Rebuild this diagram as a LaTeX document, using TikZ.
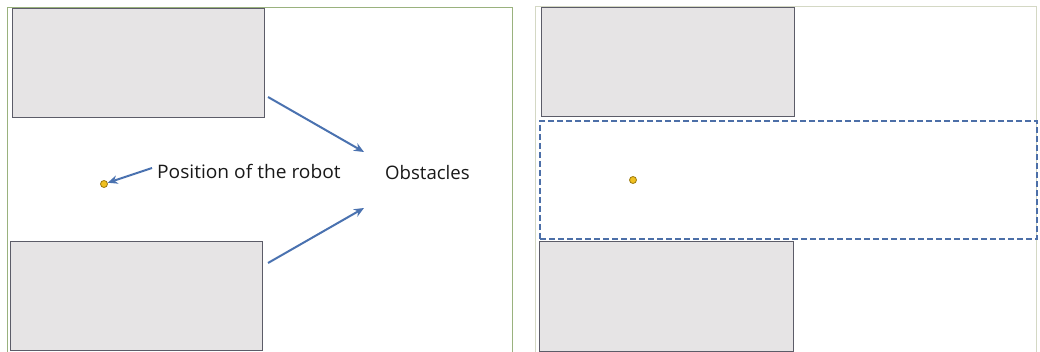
\documentclass[tikz,border=0pt]{standalone}
\usepackage{fontspec}
\setmainfont{Open Sans}
\usetikzlibrary{arrows.meta}
\definecolor{obsfill}{HTML}{E6E4E5}
\definecolor{obsdraw}{HTML}{5C5C68}
\definecolor{arrblue}{HTML}{4A72B0}
\definecolor{dashblue}{HTML}{4C6FA8}
\definecolor{panelL}{HTML}{9AB27E}
\definecolor{panelR}{HTML}{D4D8C4}
\definecolor{robotfill}{HTML}{F0C020}
\definecolor{robotdraw}{HTML}{9C7A10}
\tikzset{
  obstacle/.style={draw=obsdraw, fill=obsfill, line width=1pt, inner sep=0pt},
  robot/.style={circle, draw=robotdraw, fill=robotfill, line width=0.8pt, minimum size=7pt, inner sep=0pt},
  label/.style={font=\fontsize{18.6}{21}\selectfont, text=black!90, inner sep=0pt},
  pointer/.style={draw=arrblue, line width=2pt, -{Stealth[length=10pt,width=8.5pt]}},
  region/.style={draw=dashblue, line width=2pt, dash pattern=on 6pt off 3pt, inner sep=0pt},
}
\begin{document}
\begin{tikzpicture}[x=1pt, y=-1pt]
  \useasboundingbox (0,0) rectangle (1040,352);
  \fill[white] (0,0) rectangle (1040,352);

  % panel frames
  \draw[panelL, line width=1pt] (7.5,352) -- (7.5,7.5) -- (512,7.5) -- (512,352);
  \draw[panelR, line width=1pt] (535.5,352) -- (535.5,6.5) -- (1036,6.5) -- (1036,352);

  % left panel: obstacles
  \node[obstacle, minimum width=252pt, minimum height=109pt] (lt) at (138,63.5) {};
  \node[obstacle, minimum width=252pt, minimum height=108pt] (lb) at (136,296) {};

  % left panel: robot and labels
  \node[robot] (r1) at (104,184) {};
  \node[label, anchor=west, xscale=1.03] (pos) at (157,171) {Position of the robot};
  \node[label, anchor=west] (obs) at (385,172.5) {Obstacles};

  \coordinate (ta) at (268,97);
  \coordinate (tb) at (364,152);
  \coordinate (ba) at (268,263);
  \coordinate (bb) at (364,208);
  \coordinate (pa) at (152,168);

  \draw[pointer] (pa) -- (r1);
  \draw[pointer] (ta) -- (tb);
  \draw[pointer] (ba) -- (bb);

  % right panel: obstacles, free corridor and robot
  \node[obstacle, minimum width=253pt, minimum height=109pt] (rt) at (667.5,62.5) {};
  \node[obstacle, minimum width=254pt, minimum height=109pt] (rb) at (666,296.5) {};
  \node[region, minimum width=497pt, minimum height=118pt] (free) at (788.5,180) {};
  \node[robot] (r2) at (633,180) {};
\end{tikzpicture}
\end{document}
